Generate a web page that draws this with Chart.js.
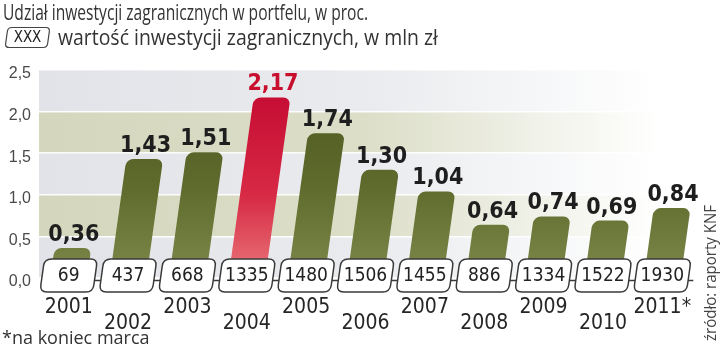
<!DOCTYPE html>
<html>
<head>
<meta charset="utf-8">
<script src="https://cdn.jsdelivr.net/npm/chart.js@4.4.0/dist/chart.umd.min.js"></script>
<style>
  body { margin: 0; background: #fff; }
  #wrap { width: 720px; height: 347px; }
</style>
</head>
<body>
<div id="wrap"><canvas id="chart" width="720" height="347"></canvas></div>
<script>
const years = ["2001", "2002", "2003", "2004", "2005", "2006", "2007", "2008", "2009", "2010", "2011*"];
const shares = [0.36, 1.43, 1.51, 2.17, 1.74, 1.30, 1.04, 0.64, 0.74, 0.69, 0.84];
const amounts = [69, 437, 668, 1335, 1480, 1506, 1455, 886, 1334, 1522, 1930];
const yTicks = [0, 0.5, 1.0, 1.5, 2.0, 2.5];
const highlight = "2004";

const title = "Udział inwestycji zagranicznych w portfelu, w proc.";
const subtitle = "wartość inwestycji zagranicznych, w mln zł";
const footnote = "*na koniec marca";
const source = "źródło: raporty KNF";

const SKEW = 0.14;
const narrow = "'Liberation Sans Narrow', 'Open Sans', sans-serif";
const cond = "'DejaVu Sans Condensed', 'Liberation Sans Narrow', sans-serif";

function fmt(v, d) {
  return v.toFixed(d).replace(".", ",");
}

function slantBox(ctx, cx, cy, w, h, r) {
  ctx.save();
  ctx.translate(cx, cy);
  ctx.transform(1, 0, -SKEW, 1, 0, 0);
  const x = -w / 2, y = -h / 2;
  ctx.beginPath();
  ctx.moveTo(x + r, y);
  ctx.lineTo(x + w - r, y);
  ctx.quadraticCurveTo(x + w, y, x + w, y + r);
  ctx.lineTo(x + w, y + h - r);
  ctx.quadraticCurveTo(x + w, y + h, x + w - r, y + h);
  ctx.lineTo(x + r, y + h);
  ctx.quadraticCurveTo(x, y + h, x, y + h - r);
  ctx.lineTo(x, y + r);
  ctx.quadraticCurveTo(x, y, x + r, y);
  ctx.closePath();
  ctx.restore();
}

// tinted background bands, fading out to the right
const backdrop = {
  id: "backdrop",
  beforeDraw(chart) {
    const { ctx, chartArea: a, scales: { y } } = chart;
    ctx.save();
    for (let i = 0; i < yTicks.length - 1; i++) {
      const top = y.getPixelForValue(yTicks[i + 1]);
      const bot = y.getPixelForValue(yTicks[i]);
      const tinted = i === 1 || i === 3;
      const g = ctx.createLinearGradient(a.left, 0, a.right, 0);
      g.addColorStop(0, tinted ? "#d4d7bd" : "#e1e3e8");
      g.addColorStop(0.5, tinted ? "#dcdec8" : "#e9ebee");
      g.addColorStop(0.95, "#ffffff");
      ctx.fillStyle = g;
      ctx.fillRect(a.left, top, a.right - a.left, bot - top);
    }
    ctx.restore();
  }
};

// leaning bars
const slant = {
  id: "slant",
  beforeDatasetsDraw(chart) {
    const base = chart.scales.y.getPixelForValue(0);
    chart.ctx.save();
    chart.ctx.setTransform(1, 0, -SKEW, 1, SKEW * base, 0);
  },
  afterDatasetsDraw(chart) {
    chart.ctx.restore();
  }
};

const annotations = {
  id: "annotations",
  afterDraw(chart) {
    const { ctx, scales: { y } } = chart;
    const meta = chart.getDatasetMeta(0);
    const y0 = y.getPixelForValue(0);
    ctx.save();

    // share labels on top of the bars
    ctx.textAlign = "center";
    ctx.textBaseline = "alphabetic";
    ctx.font = "bold 23px " + cond;
    meta.data.forEach((bar, i) => {
      const x = bar.x + SKEW * (bar.base - bar.y);
      ctx.fillStyle = years[i] === highlight ? "#c8102e" : "#1e1e1e";
      ctx.fillText(fmt(shares[i], 2), x + 1, bar.y - 7, 52);
    });

    // connector line and amount boxes
    const boxY = y0 - 2.5;
    const first = meta.data[0], last = meta.data[meta.data.length - 1];
    ctx.strokeStyle = "#3a3a3a";
    ctx.lineWidth = 1.5;
    ctx.beginPath();
    ctx.moveTo(first.x, boxY + 5);
    ctx.lineTo(last.x + 31, boxY + 5);
    ctx.stroke();

    ctx.font = "19px " + cond;
    ctx.textBaseline = "middle";
    meta.data.forEach((bar, i) => {
      slantBox(ctx, bar.x, boxY, 53, 33, 7);
      ctx.fillStyle = "#ffffff";
      ctx.fill();
      ctx.stroke();
      ctx.fillStyle = "#222";
      ctx.fillText(String(amounts[i]), bar.x, boxY + 1, 44);
    });

    // header
    ctx.textAlign = "left";
    ctx.textBaseline = "alphabetic";
    ctx.fillStyle = "#333";
    ctx.font = "21px " + narrow;
    ctx.fillText(title, 3, 20, 365);
    ctx.fillText(subtitle, 58, 45, 380);

    slantBox(ctx, 27.5, 37.5, 42, 20, 4);
    ctx.lineWidth = 1.2;
    ctx.strokeStyle = "#444";
    ctx.stroke();
    ctx.font = "15px " + cond;
    ctx.textAlign = "center";
    ctx.textBaseline = "middle";
    ctx.fillStyle = "#222";
    ctx.fillText("XXX", 27.5, 38, 30);

    // footnote
    ctx.textAlign = "left";
    ctx.textBaseline = "alphabetic";
    ctx.fillStyle = "#333";
    ctx.font = "18px " + narrow;
    ctx.fillText(footnote, 2, 344, 156);

    // source, vertical
    ctx.translate(716, 341);
    ctx.rotate(-Math.PI / 2);
    ctx.font = "17px " + narrow;
    ctx.fillStyle = "#444";
    ctx.fillText(source, 0, 0, 136);
    ctx.restore();
  }
};

function barColor(context) {
  const chart = context.chart;
  const a = chart.chartArea;
  if (!a) return "#66722f";
  const y = chart.scales.y;
  const g = chart.ctx.createLinearGradient(0, y.getPixelForValue(2.2), 0, y.getPixelForValue(0));
  if (years[context.dataIndex] === highlight) {
    g.addColorStop(0, "#c60c33");
    g.addColorStop(0.55, "#d72a45");
    g.addColorStop(1, "#e9777a");
  } else {
    g.addColorStop(0, "#4f5a20");
    g.addColorStop(0.5, "#5f6b2d");
    g.addColorStop(1, "#7c894a");
  }
  return g;
}

new Chart(document.getElementById("chart"), {
  type: "bar",
  data: {
    labels: years,
    datasets: [{
      data: shares,
      backgroundColor: barColor,
      borderWidth: 0,
      borderRadius: { topLeft: 7, topRight: 7, bottomLeft: 0, bottomRight: 0 },
      borderSkipped: "bottom",
      barPercentage: 0.62,
      categoryPercentage: 1
    }]
  },
  options: {
    responsive: false,
    animation: false,
    devicePixelRatio: 1,
    layout: { padding: { left: 0, right: 28, top: 70, bottom: 0 } },
    plugins: { legend: { display: false }, tooltip: { enabled: false } },
    scales: {
      x: {
        grid: { display: false, drawTicks: false },
        border: { display: false },
        ticks: {
          padding: 22,
          autoSkip: false,
          maxRotation: 0,
          color: "#262626",
          font: { family: cond, size: 21, lineHeight: 0.74 },
          callback: (v, i) => i % 2 === 0 ? [years[i], ""] : ["", years[i]]
        },
        afterFit: s => { s.height = 69; }
      },
      y: {
        min: 0,
        max: 2.5,
        z: 1,
        grid: { color: "rgba(255,255,255,0.9)", lineWidth: 1.5, drawTicks: false },
        border: { display: false },
        ticks: {
          stepSize: 0.5,
          padding: 8,
          labelOffset: 4,
          color: "#4a4a4a",
          font: { family: "'Liberation Sans', sans-serif", size: 16 },
          callback: v => fmt(v, 1)
        },
        afterFit: s => { s.width = 39; }
      }
    }
  },
  plugins: [backdrop, slant, annotations]
});
</script>
</body>
</html>
